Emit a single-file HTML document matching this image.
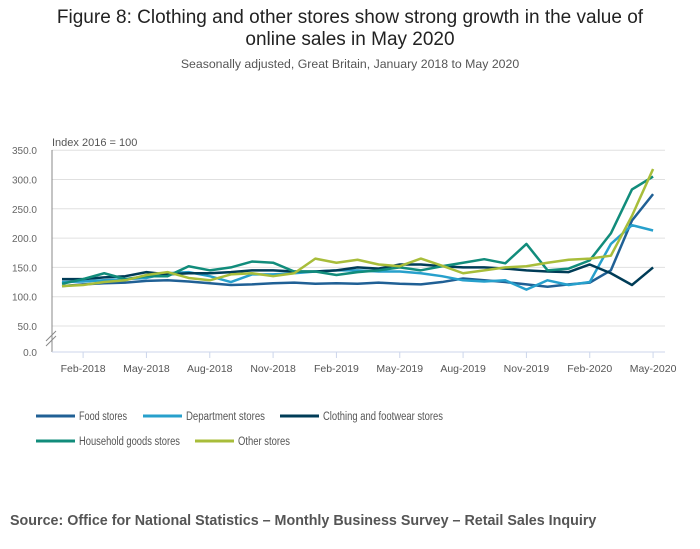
<!DOCTYPE html>
<html><head><meta charset="utf-8"><style>
body{margin:0;width:700px;height:549px;background:#fff;font-family:"Liberation Sans",sans-serif;overflow:hidden;position:relative}
.t{position:absolute;left:0;width:700px;text-align:center;color:#222}
</style></head><body>
<div class="t" style="top:7px;font-size:19px;line-height:22px">Figure 8: Clothing and other stores show strong growth in the value of<br>online sales in May 2020</div>
<div class="t" style="top:57px;font-size:12.3px;color:#555">Seasonally adjusted, Great Britain, January 2018 to May 2020</div>
<svg id="c" width="700" height="549" style="position:absolute;left:0;top:0"></svg>
<div style="position:absolute;left:10px;top:513px;font-size:14.3px;font-weight:bold;color:#555">Source: Office for National Statistics – Monthly Business Survey – Retail Sales Inquiry</div>
<script>
const seriesNames=["Food stores","Department stores","Clothing and footwear stores","Household goods stores","Other stores"];
const seriesColors=["#206095","#27a0cc","#003c57","#118c7b","#a8bd3a"];
const food=[118,121,123,124,127,128,126,123,120,121,123,124,122,123,122,124,122,121,125,131,128,125,121,117,121,124,145,230,275];
const dept=[125,126,128,130,132,140,142,135,125,138,138,140,143,145,145,143,143,140,135,128,126,128,112,128,120,125,190,222,213];
const cloth=[130,130,133,135,142,138,140,140,142,145,145,143,143,145,150,148,155,155,152,150,150,148,145,143,142,155,140,120,150];
const house=[122,130,140,130,135,135,152,145,150,160,158,143,143,137,142,145,150,145,152,158,164,157,190,145,148,162,208,283,305];
const other=[118,120,125,128,137,142,132,128,138,140,135,140,165,158,163,155,152,165,153,140,145,150,152,158,163,165,170,238,318];
const yTicks=[0,50,100,150,200,250,300,350];
const xTickLabels=["Feb-2018","May-2018","Aug-2018","Nov-2018","Feb-2019","May-2019","Aug-2019","Nov-2019","Feb-2020","May-2020"];
const xTickIdx=[1,4,7,10,13,16,19,22,25,28];
const data=[food,dept,cloth,house,other];
const NS="http://www.w3.org/2000/svg",svg=document.getElementById('c');
function X(i){return 62+i*21.11;}
function Y(v){return v>=50?326-(v-50)*29.3/50:352-v*26/50;}
function el(t,a){const e=document.createElementNS(NS,t);for(const k in a)e.setAttribute(k,a[k]);svg.appendChild(e);return e;}
yTicks.forEach(v=>{
 if(v>0){const g=el('line',{x1:52,x2:665,y1:Y(v),y2:Y(v),stroke:'#e0e0e0'});
 
 }
 const t=el('text',{x:37,y:Y(v)+4,'text-anchor':'end','font-size':10,fill:'#666'});t.textContent=v.toFixed(1);
 
 
});
el('line',{x1:52,x2:52,y1:150,y2:352,stroke:'#888'});
el('line',{x1:52,x2:665,y1:352,y2:352,stroke:'#ccd6eb'});
el('line',{x1:46,x2:56,y1:341,y2:331,stroke:'#888'});el('line',{x1:46,x2:56,y1:346,y2:336,stroke:'#888'});
const it=el('text',{x:52,y:146,'font-size':11,fill:'#555'});it.textContent="Index 2016 = 100";


xTickIdx.forEach((ix,k)=>{
 el('line',{x1:X(ix),x2:X(ix),y1:352,y2:358,stroke:'#ccd6eb'});
 const t=el('text',{x:X(ix),y:372,'text-anchor':'middle','font-size':10.5,fill:'#555'});t.textContent=xTickLabels[k];
 
 
});
data.forEach((d,s)=>{
 const p=el('polyline',{points:d.map((v,i)=>X(i)+','+Y(v)).join(' '),fill:'none',stroke:seriesColors[s],'stroke-width':2.5,'stroke-linejoin':'round'});
 
 
});
const lp=[[36,416],[143,416],[280,416],[36,441],[195,441]];
seriesNames.forEach((n,s)=>{
 const [x,y]=lp[s];
 el('line',{x1:x,x2:x+39,y1:y,y2:y,stroke:seriesColors[s],'stroke-width':3});
 const t=el('text',{x:x+43,y:y+4,'font-size':11.5,fill:'#555','textLength':{0:48,1:79,2:120,3:101,4:52}[s],'lengthAdjust':'spacingAndGlyphs'});t.textContent=n;
 
 
});
</script>
</body></html>
